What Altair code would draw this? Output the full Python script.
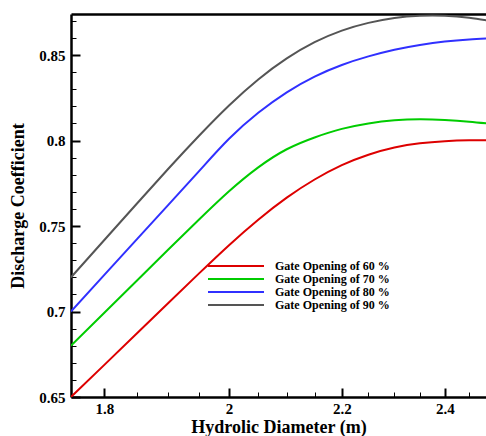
import altair as alt
import pandas as pd

# ---- data ----
x_vals = [1.75, 1.80, 1.85, 1.90, 1.95, 2.00, 2.05, 2.10, 2.15, 2.20, 2.25, 2.30, 2.35, 2.40, 2.45, 2.50]
cd_60 = [0.650, 0.6688, 0.6871, 0.7050, 0.7223, 0.7388, 0.7537, 0.7666, 0.7772, 0.7856, 0.7917, 0.7959, 0.7984, 0.7996, 0.8001, 0.8002]
cd_70 = [0.680, 0.6993, 0.7180, 0.7363, 0.7538, 0.7703, 0.7843, 0.7949, 0.8018, 0.8068, 0.8100, 0.8118, 0.8124, 0.8120, 0.8110, 0.8096]
cd_80 = [0.700, 0.7214, 0.7422, 0.7624, 0.7821, 0.8010, 0.8162, 0.8282, 0.8374, 0.8442, 0.8492, 0.8531, 0.8559, 0.8579, 0.8591, 0.8598]
cd_90 = [0.720, 0.7418, 0.7630, 0.7835, 0.8028, 0.8205, 0.8357, 0.8480, 0.8575, 0.8643, 0.8688, 0.8717, 0.8730, 0.8730, 0.8718, 0.8697]

series_names = ["Gate Opening of 60 %", "Gate Opening of 70 %", "Gate Opening of 80 %", "Gate Opening of 90 %"]
series_colors = ["#dd0000", "#00cc00", "#3030ff", "#555555"]

x_major = [1.8, 2.0, 2.2, 2.4]
x_minor = [1.85, 1.9, 1.95, 2.05, 2.1, 2.15, 2.25, 2.3, 2.35, 2.45]
y_major = [0.65, 0.7, 0.75, 0.8, 0.85]
y_minor = [0.66, 0.67, 0.68, 0.69, 0.71, 0.72, 0.73, 0.74, 0.76, 0.77, 0.78, 0.79,
           0.81, 0.82, 0.83, 0.84, 0.86, 0.87]

x_domain = [1.75, 2.485]
y_domain = [0.65, 0.874]

rows = []
for name, vals in zip(series_names, [cd_60, cd_70, cd_80, cd_90]):
    for xv, yv in zip(x_vals, vals):
        rows.append({"D": xv, "Cd": yv, "series": name})
df = pd.DataFrame(rows)

W, H = 415, 383
FONT = "Liberation Serif"

xscale = alt.Scale(type="log", domain=x_domain, nice=False, zero=False)
yscale = alt.Scale(domain=y_domain, nice=False, zero=False)

base = alt.Chart(df)

main = base.mark_line(strokeWidth=2, clip=True, interpolate="natural").encode(
    x=alt.X("D:Q", scale=xscale, axis=alt.Axis(
        title="Hydrolic Diameter (m)", values=x_major, format=".1~f",
        ticks=False, tickSize=0, labelPadding=4, domainColor="black", domainWidth=2.5,
        labelFont=FONT, labelFontWeight="bold", labelFontSize=15, labelColor="black",
        titleFont=FONT, titleFontWeight="bold", titleFontSize=18, titleColor="black",
        titlePadding=2, grid=False, labelFlush=False)),
    y=alt.Y("Cd:Q", scale=yscale, axis=alt.Axis(
        title="Discharge Coefficient", values=y_major, format=".2~f",
        ticks=False, tickSize=0, labelPadding=6, domainColor="black", domainWidth=2.5,
        labelFont=FONT, labelFontWeight="bold", labelFontSize=15, labelColor="black",
        titleFont=FONT, titleFontWeight="bold", titleFontSize=18, titleColor="black",
        titlePadding=11, grid=False, labelFlush=False)),
    color=alt.Color("series:N", sort=series_names,
                    scale=alt.Scale(domain=series_names, range=series_colors),
                    legend=alt.Legend(
                        orient="none", legendX=131, legendY=246, title=None,
                        symbolType="M0,0H14", symbolSize=64, symbolStrokeWidth=2,
                        labelFont=FONT, labelFontWeight="bold", labelFontSize=12,
                        labelColor="black", labelOffset=61, rowPadding=1, padding=0)),
    detail="series:N",
)


def tick_layer(xvals, yvals, size, width):
    return base.mark_line(strokeOpacity=0, clip=True).encode(
        x=alt.X("D:Q", scale=xscale, axis=alt.Axis(
            orient="top", offset=-H, values=xvals, labels=False, domain=False,
            ticks=True, tickSize=size, tickWidth=width, tickColor="black",
            title=None, grid=False)),
        y=alt.Y("Cd:Q", scale=yscale, axis=alt.Axis(
            orient="right", offset=-W, values=yvals, labels=False, domain=False,
            ticks=True, tickSize=size, tickWidth=width, tickColor="black",
            title=None, grid=False)),
        detail="series:N",
    )


major_ticks = tick_layer(x_major, y_major, 9, 2)
minor_ticks = tick_layer(x_minor, y_minor, 5, 1)

top_border = base.mark_line(strokeOpacity=0, clip=True).encode(
    x=alt.X("D:Q", scale=xscale, axis=alt.Axis(
        orient="top", labels=False, ticks=False, domain=True, domainColor="black",
        domainWidth=2.5, title=None, grid=False)),
    y=alt.Y("Cd:Q", scale=yscale, axis=None),
    detail="series:N",
)

chart = alt.layer(main, major_ticks, minor_ticks, top_border).resolve_axis(
    x="independent", y="independent"
).properties(
    width=W, height=H,
    autosize=alt.AutoSizeParams(type="none"),
    padding={"left": 71, "top": 14, "right": 0, "bottom": 39},
).configure_view(strokeWidth=0)

chart.save("out.html", embed_options={"renderer": "svg", "actions": False})
